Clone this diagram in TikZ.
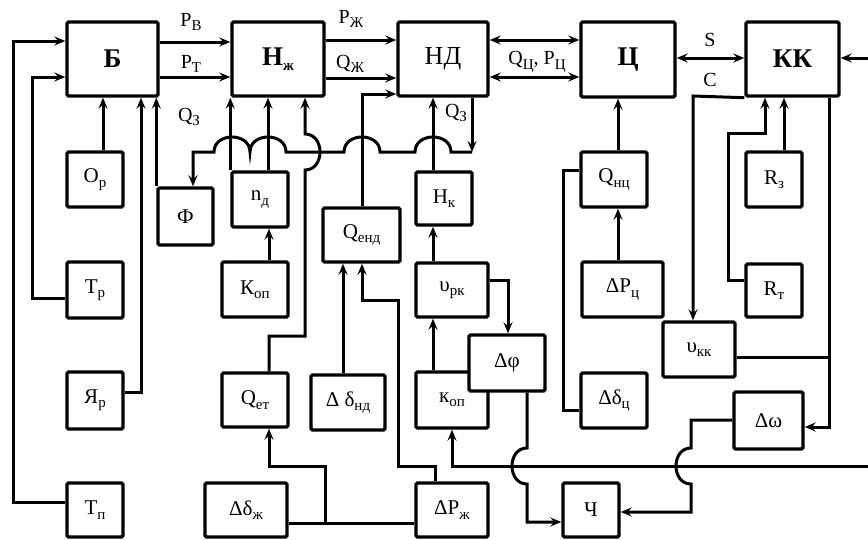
\documentclass[tikz,border=0pt]{standalone}
\usepackage{fontspec}
\setmainfont{Liberation Serif}
\usetikzlibrary{arrows.meta}
\newcommand\sbs[1]{\raisebox{-0.45ex}{\fontsize{15}{15}\selectfont #1}}
\begin{document}
\begin{tikzpicture}[x=1pt,y=-1pt,
  blk/.style={draw, line width=3.4pt, rounded corners=1.5pt, fill=white, inner sep=0pt, font=\fontsize{21}{21}\selectfont},
  big/.style={blk, font=\fontsize{27}{27}\selectfont\bfseries},
  ln/.style={line width=3pt},
  tipx/.tip={Stealth[length=11pt,width=9pt,inset=4pt]},
  arr/.style={ln, -tipx},
  darr/.style={ln, tipx-tipx},
  lab/.style={font=\fontsize{20}{20}\selectfont, inner sep=0pt}
]
\useasboundingbox (0,0) rectangle (868,539);
% main blocks
\node[big, minimum width=91pt, minimum height=74pt] (B) at (112.5,59) {Б};
\node[big, minimum width=92pt, minimum height=74pt] (Nzh) at (278,59) {Н\sbs{ж}};
\node[blk, font=\fontsize{26}{26}\selectfont, minimum width=90pt, minimum height=74pt] (ND) at (443,59) {НД};
\node[big, minimum width=94pt, minimum height=75pt] (C) at (628,59.5) {Ц};
\node[big, minimum width=93pt, minimum height=74pt] (KK) at (792.5,59) {КК};
% left column
\node[blk, minimum width=56pt, minimum height=55pt] (Or) at (95,179.5) {О\sbs{р}};
\node[blk, minimum width=56pt, minimum height=56pt] (Tr) at (95,290) {Т\sbs{р}};
\node[blk, minimum width=56pt, minimum height=57pt] (Yar) at (95,400.5) {Я\sbs{р}};
\node[blk, minimum width=56pt, minimum height=54pt] (Tp) at (95,510) {Т\sbs{п}};
\node[blk, minimum width=55pt, minimum height=57pt] (F) at (185.5,216.5) {Ф};
\node[blk, minimum width=56pt, minimum height=55pt] (nd) at (260,199.5) {n\sbs{д}};
\node[blk, minimum width=66pt, minimum height=55pt] (Kop) at (255,289.5) {К\sbs{оп}};
\node[blk, minimum width=66pt, minimum height=54pt] (Qet) at (255,400) {Q\sbs{ет}};
\node[blk, minimum width=82pt, minimum height=54pt] (Ddzh) at (246,510) {Δδ\sbs{ж}};
% middle
\node[blk, minimum width=77pt, minimum height=54pt] (Qend) at (361.5,235) {Q\sbs{енд}};
\node[blk, minimum width=74pt, minimum height=55pt] (Ddnd) at (348,402.5) {Δ δ\sbs{нд}};
\node[blk, minimum width=56pt, minimum height=53pt] (Hk) at (444,198.5) {Н\sbs{к}};
\node[blk, minimum width=72pt, minimum height=54pt] (Urk) at (452,290) {υ\sbs{рк}};
\node[blk, minimum width=72pt, minimum height=56pt] (kop) at (452,400) {к\sbs{оп}};
\node[blk, minimum width=76pt, minimum height=56pt] (Dphi) at (507,363) {Δφ};
\node[blk, minimum width=72pt, minimum height=54pt] (DPzh) at (452,510) {ΔP\sbs{ж}};
\node[blk, minimum width=56pt, minimum height=54pt] (Ch) at (591,510) {Ч};
% right
\node[blk, minimum width=66pt, minimum height=55pt] (Qnc) at (614,179.5) {Q\sbs{нц}};
\node[blk, minimum width=81pt, minimum height=55pt] (DPc) at (622.5,289.5) {ΔP\sbs{ц}};
\node[blk, minimum width=66pt, minimum height=55pt] (Ddc) at (614,400.5) {Δδ\sbs{ц}};
\node[blk, minimum width=72pt, minimum height=55pt] (Ukk) at (699,349.5) {υ\sbs{кк}};
\node[blk, minimum width=56pt, minimum height=55pt] (Rz) at (774,179.5) {R\sbs{з}};
\node[blk, minimum width=56pt, minimum height=53pt] (Rt) at (774,290.5) {R\sbs{т}};
\node[blk, minimum width=69pt, minimum height=57pt] (Dw) at (768.5,420.5) {Δω};
% free ends and junctions
\coordinate (e1) at (868,58);
\coordinate (e2) at (868,466);
\coordinate (j1) at (325,523);
\coordinate (j2) at (829,357);
% labels
\node[lab] (lPB) at (191,22) {P\sbs{В}};
\node[lab] (lPT) at (191,64) {P\sbs{Т}};
\node[lab] (lQ3a) at (189,117) {Q\sbs{З}};
\node[lab] (lPZh) at (351,19) {P\sbs{Ж}};
\node[lab] (lQZh) at (350,64) {Q\sbs{Ж}};
\node[lab] (lQP) at (537,62) {Q\sbs{Ц}, P\sbs{Ц}};
\node[lab] (lS) at (710,40) {S};
\node[lab] (lC) at (710,80) {C};
\node[lab] (lQ3b) at (456,113) {Q\sbs{З}};
% connectors: Б inputs
\draw[arr] (Tp.west |- 0,502) -- (13,502) -- (13,41) -- (B.west |- 0,41);
\draw[arr] (Tr.west |- 0,298) -- (32,298) -- (32,77) -- (B.west |- 0,77);
\draw[arr] (Or.north -| 103,0) -- (B.south -| 103,0);
\draw[arr] (Yar.east |- 0,392) -- (141,392) -- (B.south -| 141,0);
\draw[arr] (F.north west) -- (F.north west |- B.south);
% top row
\draw[arr] (B.east |- 0,42) -- (Nzh.west |- 0,42);
\draw[arr] (B.east |- 0,77) -- (Nzh.west |- 0,77);
\draw[arr] (Nzh.east |- 0,40) -- (ND.west |- 0,40);
\draw[arr] (Nzh.east |- 0,78) -- (ND.west |- 0,78);
\draw[darr] (ND.east |- 0,40) -- (C.west |- 0,40);
\draw[darr] (ND.east |- 0,77) -- (C.west |- 0,77);
\draw[darr] (C.east |- 0,58) -- (KK.west |- 0,58);
\draw[arr] (e1) -- (KK.east |- e1);
% Нж inputs
\draw[arr] (nd.north west) -- (nd.north west |- Nzh.south);
\draw[arr] (nd.north -| 268,0) -- (Nzh.south -| 268,0);
\draw[arr] (Kop.north -| 269,0) -- (nd.south -| 269,0);
\draw[arr] (Qet.north -| 269,0) -- (269,336) -- (305,336) -- (305,170)
   .. controls (325,170) and (325,134) .. (305,134) -- (Nzh.south -| 305,0);
% Q3 from НД to Ф with bumps
\draw[arr] (ND.south -| 472,0) -- (472,152);
\draw[arr] (472,152) -- (451,152) .. controls (451,132) and (415,132) .. (415,152)
   -- (380,152) .. controls (380,132) and (344,132) .. (344,152)
   -- (286,152) .. controls (286,132) and (250,132) .. (250,152)
   .. controls (250,132) and (214,132) .. (214,152)
   -- (193,152) -- (F.north -| 193,0);
% НД inputs
\draw[arr] (Qend.north -| 362,0) -- (362,94) -- (ND.west |- 0,94);
\draw[arr] (Hk.north -| 433,0) -- (ND.south -| 433,0);
\draw[arr] (Urk.north -| 433,0) -- (Hk.south -| 433,0);
\draw[arr] (kop.north -| 433,0) -- (Urk.south -| 433,0);
\draw[arr] (Urk.east |- 0,280) -- (508,280) -- (Dphi.north -| 508,0);
\draw[arr] (Dphi.south -| 527,0) -- (527,448) .. controls (507,448) and (507,484) .. (527,484)
   -- (527,522) -- (Ch.west |- 0,522);
\draw[arr] (Dw.west |- 0,420) -- (691,420) -- (691,448) .. controls (671,448) and (671,484) .. (691,484)
   -- (691,512) -- (Ch.east |- 0,512);
\draw[arr] (e2) -- (452,466) -- (kop.south -| 452,0);
% bottom left
\draw[ln] (Ddzh.east |- j1) -- (DPzh.west |- j1);
\draw[arr] (j1) -- (325,466) -- (269,466) -- (Qet.south -| 269,0);
\draw[arr] (DPzh.north -| 435,0) -- (435,466) -- (398,466) -- (398,300) -- (362,300) -- (Qend.south -| 362,0);
\draw[arr] (Ddnd.north -| 343,0) -- (Qend.south -| 343,0);
% Ц side
\draw[arr] (Qnc.north -| 618,0) -- (C.south -| 618,0);
\draw[arr] (DPc.north -| 618,0) -- (Qnc.south -| 618,0);
\draw[ln] (Ddc.west |- 0,410) -- (563,410) -- (563,170) -- (Qnc.west |- 0,170);
% КК side
\draw[arr] (KK.south west) -- (693,96) -- (Ukk.north -| 693,0);
\draw[arr] (KK.south -| 829,0) -- (829,427) -- (Dw.east |- 0,427);
\draw[ln] (Ukk.east |- j2) -- (j2);
\draw[arr] (Rz.north -| 784,0) -- (KK.south -| 784,0);
\draw[arr] (Rt.west |- 0,280) -- (728,280) -- (728,133) -- (765,133) -- (KK.south -| 765,0);
\end{tikzpicture}
\end{document}
